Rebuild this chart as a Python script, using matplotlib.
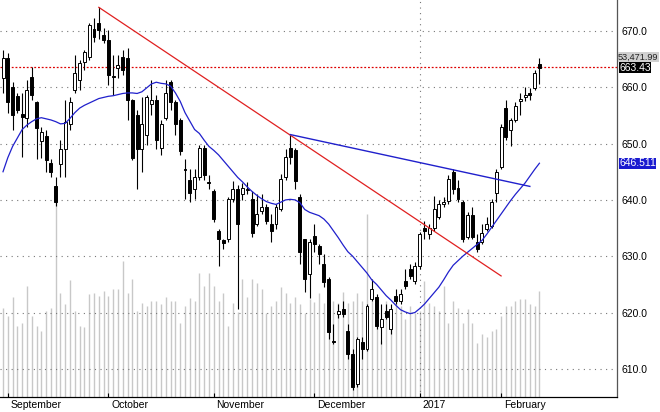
import matplotlib
matplotlib.use("Agg")
import matplotlib.pyplot as plt
from matplotlib.patches import Rectangle
plt.rcParams['font.family'] = ['Liberation Sans', 'DejaVu Sans']

opens = [661.7,665.2,660,658.5,655.2,654.6,661.9,657.4,650.5,651.3,646.5,642.4,646.3,649,653.4,659.6,661.3,664.5,665.4,670.3,671.4,669.3,668.4,662,663.5,665.4,665.2,657.8,655.1,649,651.6,657.1,657.8,649.3,654.6,660.9,657.3,654.2,645.5,643.6,641.9,644,649.3,
643.2,641.5,634.5,632.8,633,640.1,641.9,641,641.8,640.1,635.7,638,638.8,635.7,635.7,638.4,644,649.3,648.9,640.5,633,626.9,633.6,631.8,628.6,626,615,619.7,620.7,616.7,612.7,607.3,614.8,613.5,622.4,622.8,617.4,620.3,617.1,623,622.1,625.6,
627.7,625.6,628.2,635.1,633.9,635.1,636.9,639.2,639.8,644.9,642.2,639.6,633.4,637.4,632.5,632.5,634.8,635.3,641.3,645.8,656.4,652.5,654.2,657.6,658.3,659,659.9,664.2]
closes = [665.2,657.3,655,656,654.8,659.6,658.7,652.8,652,647,645,639.6,649,653.8,657.3,662.6,664.3,666.3,671,669,670.2,668.4,662.2,661.8,664,663.1,657.8,647.5,649,653.4,658.3,657.8,650.7,653.4,659,657.3,653.4,648.6,645.3,641.3,644,649.3,644.5,
643,636.6,633,632.3,640.1,641.9,635.7,642.2,641.9,634.2,637.5,638.8,636.2,634.5,638.8,643.7,647.7,647.7,643.3,630.8,626,632.6,632.2,630.4,625.4,616.6,614.8,620.2,619.8,612.7,606.8,615.3,613.5,621.1,624.2,617.6,618.8,619.2,620.7,622.1,623.3,624.7,
626.5,628.2,634,634.4,635.1,638.4,639.2,639.6,643.7,641.9,640.1,633,637.4,633.4,631.2,634.2,635.7,639.6,644.9,653,651.2,654.2,656.6,658,658.7,658.7,662.6,663.43]
highs = [666.6,666,661,659,659,661.3,663.6,657.5,653,652.5,647.2,644,650.7,657.8,658.2,665.8,664.8,666.6,671.5,672.3,674.2,670.5,670.2,665.8,665.8,666.6,667,658,656,658.2,658.7,661.3,658.7,654.2,661.3,661.3,657.8,654.5,647.2,645.4,645.4,649.8,649.8,
644.5,642,634.8,633,640.5,643.3,642.7,643,643.1,641.5,641,641,639.2,637.5,639.2,644.6,649,651.6,649.3,641.1,633,633,635.7,632.2,630.4,626.3,618,621.5,622,618,613.5,615.7,615.7,621.5,626,623.3,621.5,621.5,621.5,624.2,624.2,627.8,
628.6,629,634.3,636.2,635.7,640.7,640,640.5,644.4,645.4,643.6,640,637.8,638.8,633.9,635.7,637,640.1,645.4,653.4,657.8,654.6,657.3,659,660,659.9,663.1,665.2]
lows = [659,655.5,652.5,655.5,647.7,653,657.8,647.2,647.5,645,644,639,644,644,652.5,659,659.6,663,664.8,668,668.6,667.9,660.4,658.7,661.7,662.2,654.2,647,641.9,645,649.8,655.1,649,648,654.2,656,651.6,648,640.1,639.6,640.1,643.5,643.6,
641.9,636,628.2,631.2,632.5,639.6,620.6,640,641,633.5,635.3,637.5,635.7,632.6,634.8,638,643.6,646.3,641.9,628.6,623.7,622.5,630.8,628.6,624.5,615.3,614.4,619.1,619.2,611.8,606.2,606.8,611.8,613.2,622,617.1,614.4,618.8,616.2,621.5,621.5,624.2,
626,625,627.7,633,633,634.5,636.6,638.8,639.2,641,639.6,632.6,633,633,630.7,632.2,634.5,635.1,639.6,645.4,650.7,649.5,653.8,655,657.5,657.8,659.6,660.6]
volume = [89,81,100,71,74,111,81,71,66,86,89,196,104,93,117,86,71,70,103,104,101,106,101,108,108,136,104,118,86,94,91,96,96,93,100,96,96,74,91,99,96,124,111,
124,111,96,104,71,94,85,118,100,118,114,108,84,91,96,110,104,94,100,93,84,98,95,104,94,104,96,94,105,94,96,104,96,183,96,96,56,96,78,96,91,78,
91,84,86,116,94,91,86,111,74,96,89,74,88,74,54,63,60,66,68,81,91,91,96,98,98,93,91,106]
ma20 = [645,647.5,649.5,651,652.5,653.3,653.9,654.4,654.6,654.4,654.2,653.9,653.5,653.6,654.5,655.5,656.3,656.8,657.2,657.6,658,658.2,658.4,658.5,658.7,658.9,659,659,658.9,659.2,659.9,660.6,660.9,660.7,660.6,660.2,659,657.5,655.5,654,652.5,651.8,650.6,
649.5,648.8,648,647,646,645,644,643.2,642.3,641.5,640.8,640.2,639.7,639.4,639.2,639.6,640,640.1,640,639.5,638.3,637.8,637.5,637.2,636.6,635.7,634.5,633.3,632,630.8,630,629,628,627,625.8,625,624,623,622.2,621.3,620.5,620.1,
619.8,620,620.7,621.5,622.5,623.5,624.5,625.8,627.2,628.4,629.2,630,630.7,631.4,632.1,632.8,633.9,635.1,636.3,637.5,638.7,639.9,641,642,643,644.2,645.4,646.511]
month_labels = ["September", "October", "November", "December", "2017", "February"]
month_idx = [1, 22, 44, 65, 87, 104]
red_trend = ([20, 104], [674.2, 626.5])
blue_trend = ([60, 110], [651.6, 642.4])
resistance = 663.6
yticks = [610, 620, 630, 640, 650, 660, 670]

fig = plt.figure(figsize=(6.6, 4.12), dpi=100)
ax = fig.add_axes([0, 15/412, 617/660, 397/412])
axv = ax.twinx()
axv.set_zorder(0); ax.set_zorder(1); ax.patch.set_visible(False)
n = len(closes)
axv.vlines(range(n), 0, volume, color="#c8c8c8", lw=1.0)
axv.set_ylim(0, 397)
axv.set_yticks([])

for y in yticks:
    ax.axhline(y, color="#777777", lw=0.8, ls=(0, (1, 4)), zorder=0)
ax.axvline(87, color="#777777", lw=0.8, ls=(0, (1, 4)), zorder=0)
ax.axhline(resistance, color="#dd0000", lw=0.9, ls=(0, (1.5, 1.5)))

w = 0.62
for i in range(n):
    o, c, h, l = opens[i], closes[i], highs[i], lows[i]
    ax.vlines(i, l, h, color="black", lw=0.8, zorder=2)
    lo, hi = min(o, c), max(o, c)
    ax.add_patch(Rectangle((i - w/2, lo), w, max(hi - lo, 0.12),
                           facecolor="white" if c >= o else "black",
                           edgecolor="black", lw=0.7, zorder=3))

ax.plot(range(n), ma20, color="#2020cc", lw=0.9, zorder=4)
ax.plot(*red_trend, color="#e02020", lw=0.9, zorder=4)
ax.plot(*blue_trend, color="#2020cc", lw=1.0, zorder=4)

ax.set_xlim(-0.63, 128.2)
ax.set_ylim(605, 675.5)
ax.yaxis.tick_right()
ax.set_yticks(yticks)
ax.set_yticklabels([f"{v:.1f}" for v in yticks], fontsize=7.5)
ax.tick_params(axis="y", length=0, pad=3)
ax.set_xticks(month_idx)
ax.set_xticklabels([])
ax.tick_params(axis="x", length=3, direction="in")
for m, lab in zip(month_idx, month_labels):
    ax.annotate(lab, (m, 605), xytext=(2, -2), textcoords="offset points",
                ha="left", va="top", fontsize=7.5)
for s in ["top", "left"]:
    ax.spines[s].set_visible(False)
    axv.spines[s].set_visible(False)
ax.spines["right"].set_color("#555555")

def tag(y, text, bg, fg, fs=7.5, dx=1.5):
    ax.annotate(text, (1, y), xycoords=("axes fraction", "data"), xytext=(dx, 0),
                textcoords="offset points", ha="left", va="center", fontsize=fs,
                color=fg, bbox=dict(boxstyle="square,pad=0.05", fc=bg, ec="none"),
                annotation_clip=False)
tag(665.4, "53,471.99", "#d0d0d0", "#222222", fs=6.6, dx=0.8)
tag(closes[-1], f"{closes[-1]:.2f}", "black", "white")
tag(ma20[-1], f"{ma20[-1]:.3f}", "#1a1ad0", "white")

fig.savefig("out.png", dpi=100)
